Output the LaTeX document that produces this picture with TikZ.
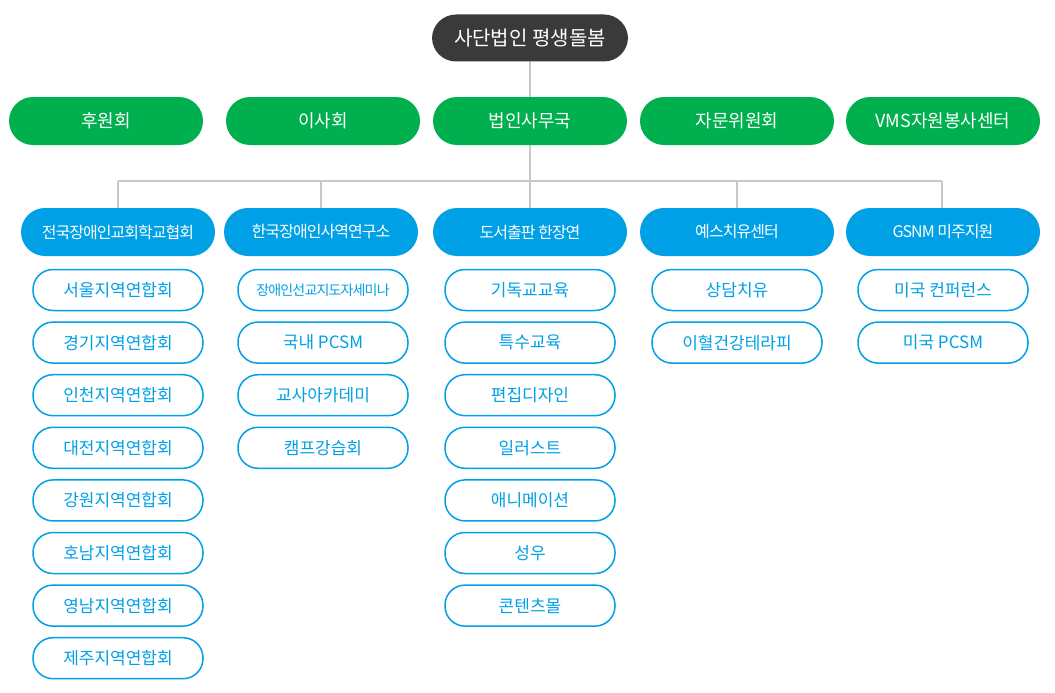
\documentclass[tikz,border=0pt]{standalone}
\usepackage{fontspec}
\setmainfont{Noto Sans CJK KR}
\definecolor{dk}{HTML}{3A3A3A}
\definecolor{gr}{HTML}{00B04F}
\definecolor{bl}{HTML}{00A0E6}
\definecolor{ln}{HTML}{C8C8C8}
\begin{document}
\begin{tikzpicture}[x=1pt,y=-1pt,
 pill/.style={rounded corners=24pt,minimum width=194pt,minimum height=48pt,inner sep=0pt,text=white},
 top/.style={pill,fill=dk,minimum width=196pt,minimum height=47pt,font=\fontsize{20}{22}\selectfont},
 grn/.style={pill,fill=gr,font=\fontsize{18}{20}\selectfont},
 blu/.style={pill,fill=bl,font=\fontsize{16}{18}\selectfont\addfontfeature{LetterSpace=-6}},
 sub/.style={rounded corners=20pt,minimum width=170pt,minimum height=41pt,inner sep=0pt,draw=bl,line width=1.5pt,fill=white,text=bl,font=\fontsize{17}{19}\selectfont},
 con/.style={draw=ln,line width=1.5pt}]
\useasboundingbox (0,0) rectangle (1055,693);
\coordinate (h1) at (118,181); \coordinate (h5) at (942,181);
\draw[con] (530,38) -- (530,181);
\draw[con] (h1) -- (h5);
\foreach \x in {118,321,530,737,942} \draw[con] (\x,181) -- (\x,232);
\node[top] (t) at (530,38) {사단법인 평생돌봄};
\node[grn] (g1) at (106,121) {후원회};
\node[grn] (g2) at (323,121) {이사회};
\node[grn] (g3) at (530,121) {법인사무국};
\node[grn] (g4) at (737,121) {자문위원회};
\node[grn] (g5) at (943,121) {VMS자원봉사센터};
\node[blu] (b1) at (118,232) {전국장애인교회학교협회};
\node[blu] (b2) at (321,232) {한국장애인사역연구소};
\node[blu] (b3) at (530,232) {도서출판 한장연};
\node[blu] (b4) at (737,232) {예스치유센터};
\node[blu] (b5) at (943,232) {GSNM 미주지원};
\foreach \t [count=\i] in {서울지역연합회,경기지역연합회,인천지역연합회,大전지역연합회}{}
\foreach \t [count=\i] in {서울지역연합회,경기지역연합회,인천지역연합회,대전지역연합회,강원지역연합회,호남지역연합회,영남지역연합회,제주지역연합회}
  \node[sub] (a\i) at (118,{290+52.6*(\i-1)}) {\t};
\node[sub,font=\fontsize{14}{16}\selectfont\addfontfeature{LetterSpace=-6}] (c1) at (323,290) {장애인선교지도자세미나};
\foreach \t [count=\i from 2] in {국내 PCSM,교사아카데미,캠프강습회}
  \node[sub] (c\i) at (323,{290+52.6*(\i-1)}) {\t};
\foreach \t [count=\i] in {기독교교육,특수교육,편집디자인,일러스트,애니메이션,성우,콘텐츠몰}
  \node[sub] (d\i) at (530,{290+52.6*(\i-1)}) {\t};
\node[sub] (e1) at (737,290) {상담치유};
\node[sub] (e2) at (737,342.6) {이혈건강테라피};
\node[sub] (f1) at (943,290) {미국 컨퍼런스};
\node[sub] (f2) at (943,342.6) {미국 PCSM};
\end{tikzpicture}
\end{document}
